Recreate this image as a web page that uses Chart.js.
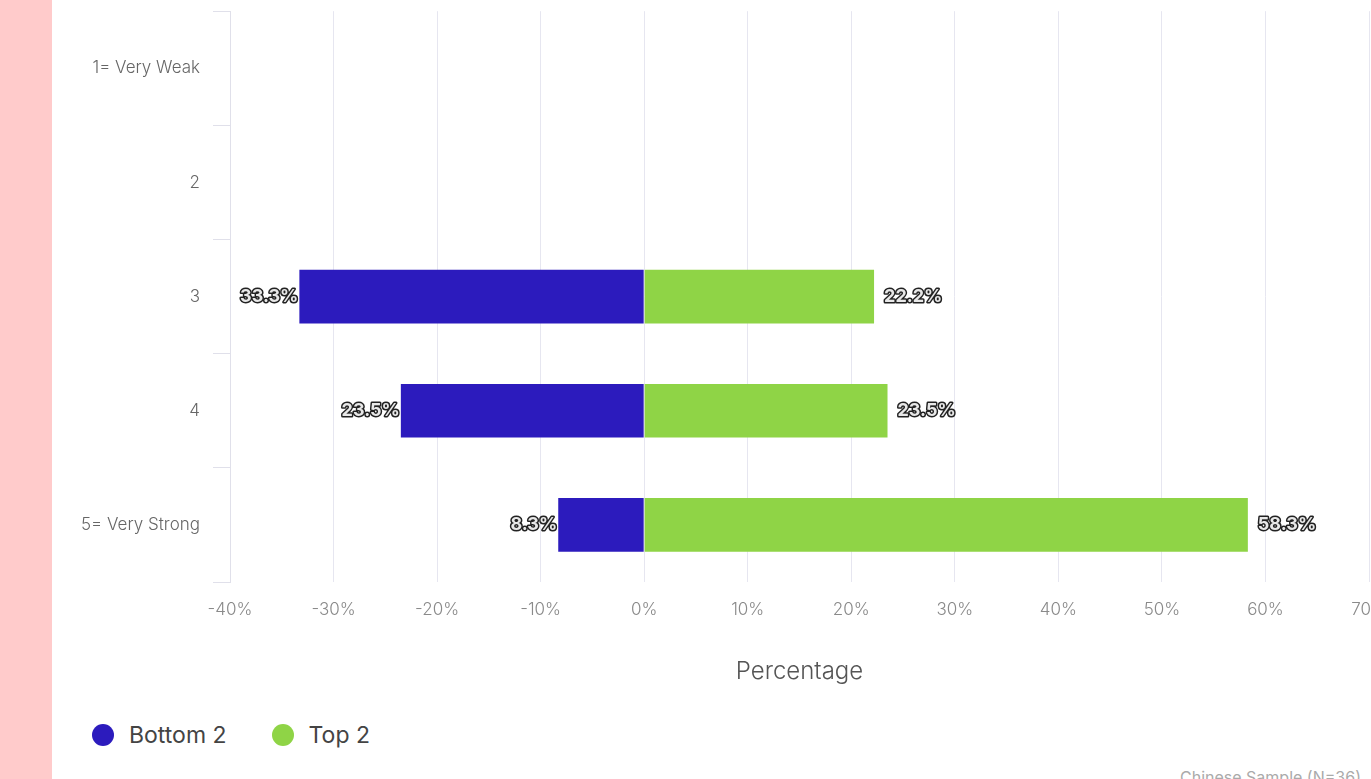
<!DOCTYPE html>
<html>
<head>
<meta charset="utf-8">
<script src="https://cdn.jsdelivr.net/npm/chart.js@4.4.1/dist/chart.umd.min.js"></script>
<style>
  html, body { margin: 0; padding: 0; background: #fff; overflow: hidden; width: 1371px; height: 779px; }
  body { position: relative; font-family: Inter, 'Open Sans', sans-serif; }
  .strip { position: absolute; left: 0; top: 0; width: 52px; height: 779px; background: #ffcbcb; }
  .chart-box { position: absolute; left: 52px; top: -12px; width: 1360px; height: 712px; }
  .legend { position: absolute; left: 92px; top: 721px; display: flex; align-items: center; font-size: 23px; color: #444; }
  .legend-item { display: flex; align-items: center; margin-right: 45px; }
  .legend-dot { width: 22px; height: 22px; border-radius: 50%; margin-right: 15px; }
  .note { position: absolute; left: 1180px; top: 767px; font-size: 16px; color: #aaa; white-space: nowrap; }
</style>
</head>
<body>
<div class="strip"></div>
<div class="chart-box"><canvas id="bar-chart"></canvas></div>
<div class="legend">
  <div class="legend-item"><div class="legend-dot" style="background:#2c1bbd;"></div>Bottom 2</div>
  <div class="legend-item"><div class="legend-dot" style="background:#8fd446;"></div>Top 2</div>
</div>
<div class="note">Chinese Sample (N=36)</div>
<script>
'use strict';

const categories = ['1= Very Weak', '2', '3', '4', '5= Very Strong'];
const bottom2 = [null, null, -33.3, -23.5, -8.3];
const top2 = [null, null, 22.2, 23.5, 58.3];
const xTicks = [-40, -30, -20, -10, 0, 10, 20, 30, 40, 50, 60, 70];

// 막대 끝에 값 표시
const valueLabels = {
  id: 'valueLabels',
  afterDatasetsDraw(chart) {
    const ctx = chart.ctx;
    ctx.save();
    ctx.font = 'bold 18px Inter, sans-serif';
    ctx.textBaseline = 'middle';
    ctx.lineJoin = 'round';
    chart.data.datasets.forEach((ds, i) => {
      const meta = chart.getDatasetMeta(i);
      meta.data.forEach((bar, j) => {
        const v = ds.data[j];
        if (v === null || v === undefined) return;
        const text = Math.abs(v).toFixed(1) + '%';
        let x;
        if (v < 0) { ctx.textAlign = 'right'; x = bar.x - 1; }
        else { ctx.textAlign = 'left'; x = bar.x + 10; }
        ctx.lineWidth = 3;
        ctx.strokeStyle = '#222';
        ctx.strokeText(text, x, bar.y);
        ctx.fillStyle = '#e8e8e8';
        ctx.fillText(text, x, bar.y);
      });
    });
    ctx.restore();
  },
};

new Chart(document.getElementById('bar-chart'), {
  type: 'bar',
  data: {
    labels: categories,
    datasets: [
      { label: 'Bottom 2', data: bottom2, backgroundColor: '#2c1bbd', barPercentage: 0.47, categoryPercentage: 1 },
      { label: 'Top 2', data: top2, backgroundColor: '#8fd446', barPercentage: 0.47, categoryPercentage: 1 },
    ],
  },
  options: {
    indexAxis: 'y',
    responsive: true,
    maintainAspectRatio: false,
    animation: false,
    layout: { padding: { top: 0, right: 43, left: 0, bottom: 0 } },
    plugins: {
      legend: { display: false },
      tooltip: { enabled: false },
    },
    scales: {
      x: {
        stacked: true,
        min: -40,
        max: 70,
        afterBuildTicks: (scale) => { scale.ticks = xTicks.map(v => ({ value: v })); },
        afterFit: (scale) => { scale.height = 118; },
        ticks: {
          color: '#8a8a8a',
          padding: 18,
          font: { size: 17, family: 'Inter', weight: 300 },
          callback: (v) => v + '%',
        },
        grid: { color: '#e6e6f0', drawTicks: false },
        border: { display: false },
        title: {
          display: true,
          text: 'Percentage',
          color: '#555',
          font: { size: 24, family: 'Inter', weight: 300 },
          padding: { top: 0, bottom: 14 },
        },
      },
      y: {
        stacked: true,
        afterFit: (scale) => { scale.width = 178; },
        ticks: {
          color: '#666',
          padding: 13,
          font: { size: 17, family: 'Inter', weight: 300 },
        },
        grid: { offset: true, drawOnChartArea: false, drawTicks: true, tickLength: 17, color: '#e0e0ea' },
        border: { display: true, color: '#e0e0ea' },
      },
    },
  },
  plugins: [valueLabels],
});
</script>
</body>
</html>
